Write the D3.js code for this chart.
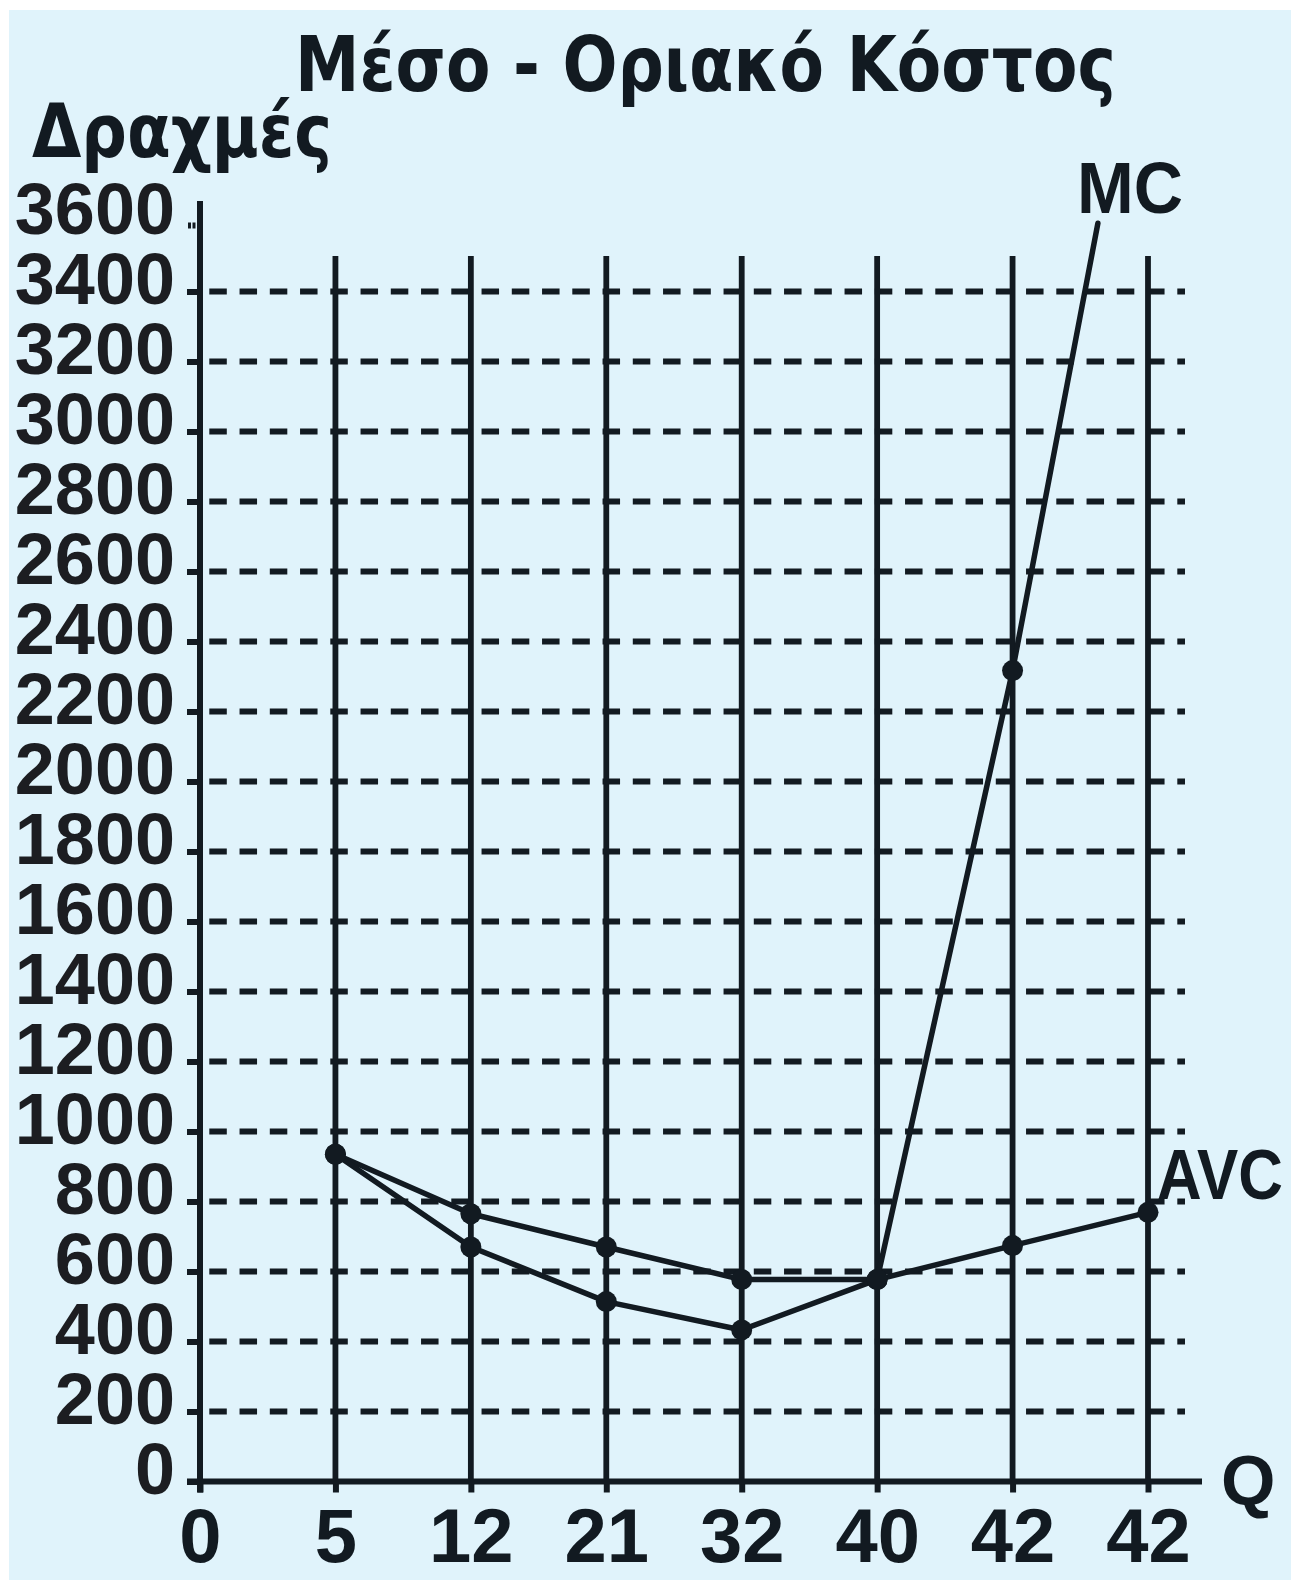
<!DOCTYPE html>
<html>
<head>
<meta charset="utf-8">
<script src="https://cdn.jsdelivr.net/npm/d3@7"></script>
<style>
  html, body { margin: 0; padding: 0; background: #ffffff; }
  svg { display: block; }
</style>
</head>
<body>
<svg id="chart" width="1296" height="1581"></svg>
<script>
// ---- data ----
const titleText = "Μέσο - Οριακό Κόστος";
const yAxisTitle = "Δραχμές";
const xAxisTitle = "Q";
const xLabels = ["0", "5", "12", "21", "32", "40", "42", "42"];
const yTicks = [0, 200, 400, 600, 800, 1000, 1200, 1400, 1600, 1800, 2000, 2200, 2400, 2600, 2800, 3000, 3200, 3400, 3600];
const avcQ = [1, 2, 3, 4, 5, 6, 7];
const avcValues = [935, 765, 670, 577, 577, 674, 769];
const mcQ = [1, 2, 3, 4, 5, 6, 6.63];
const mcValues = [935, 670, 514, 433, 577, 2317, 3595];
const mcMarkers = [true, true, true, true, true, true, false];

// ---- styles ----
const ink = "#121a21";
const textInk = "#1c1d21";
const bg = "#e0f3fb";

const svg = d3.select("#chart");
svg.append("rect").attr("x", 9).attr("y", 10).attr("width", 1282).attr("height", 1570).attr("fill", bg);

const x = d3.scaleLinear().domain([0, xLabels.length - 1]).range([200, 1148]);
const y = d3.scaleLinear().domain([0, 3600]).range([1481.5, 221.5]);

// horizontal dashed gridlines
svg.append("g").selectAll("line")
  .data(yTicks.filter(v => v > 0 && v < 3600))
  .join("line")
  .attr("x1", 209.3).attr("x2", 1185)
  .attr("y1", d => y(d)).attr("y2", d => y(d))
  .attr("stroke", ink).attr("stroke-width", 6)
  .attr("stroke-dasharray", "17.5,12.75");

// vertical solid gridlines
svg.append("g").selectAll("line")
  .data(d3.range(1, xLabels.length))
  .join("line")
  .attr("x1", d => x(d)).attr("x2", d => x(d))
  .attr("y1", 256).attr("y2", y(0))
  .attr("stroke", ink).attr("stroke-width", 5.8);

// Y axis
const yAxis = svg.append("g").attr("transform", "translate(200,0)")
  .call(d3.axisLeft(y).tickValues(yTicks).tickSize(13).tickPadding(12).tickFormat(d3.format("d")));
yAxis.select(".domain").remove();
yAxis.selectAll(".tick line").attr("stroke", ink).attr("stroke-width", 6);
yAxis.selectAll(".tick").filter(d => d === 3600).select("line")
  .attr("stroke-dasharray", "3,1.5").attr("transform", "translate(0,3.5)");
yAxis.selectAll(".tick text")
  .attr("dy", 12)
  .attr("fill", textInk)
  .style("font-family", "'Liberation Sans', Arial, sans-serif")
  .style("font-weight", "bold")
  .style("font-size", "72px");

// X axis
const xAxis = svg.append("g").attr("transform", `translate(0,${y(0)})`)
  .call(d3.axisBottom(x).tickValues(d3.range(xLabels.length)).tickSize(11).tickFormat(i => xLabels[i]));
xAxis.select(".domain").remove();
xAxis.selectAll(".tick line").attr("stroke", ink).attr("stroke-width", 6);
xAxis.selectAll(".tick text")
  .attr("y", 80).attr("dy", 0)
  .attr("fill", ink)
  .style("font-family", "'Liberation Sans', Arial, sans-serif")
  .style("font-weight", "bold")
  .style("font-size", "76px");

// axis lines
svg.append("line").attr("x1", x(0)).attr("x2", x(0)).attr("y1", 201).attr("y2", y(0) + 11)
  .attr("stroke", ink).attr("stroke-width", 6);
svg.append("line").attr("x1", 187).attr("x2", 1202).attr("y1", y(0)).attr("y2", y(0))
  .attr("stroke", ink).attr("stroke-width", 6);

// series
const line = d3.line().x(d => x(d.q)).y(d => y(d.v));
const avc = avcQ.map((q, i) => ({ q, v: avcValues[i], m: true }));
const mc = mcQ.map((q, i) => ({ q, v: mcValues[i], m: mcMarkers[i] }));

[avc, mc].forEach(series => {
  svg.append("path").datum(series).attr("d", line)
    .attr("fill", "none").attr("stroke", ink).attr("stroke-width", 5.5)
    .attr("stroke-linejoin", "round").attr("stroke-linecap", "round");
});
[avc, mc].forEach(series => {
  svg.append("g").selectAll("circle").data(series.filter(d => d.m)).join("circle")
    .attr("cx", d => x(d.q)).attr("cy", d => y(d.v)).attr("r", 10.5).attr("fill", ink);
});

// texts
svg.append("text").text(titleText)
  .attr("x", 295).attr("y", 91)
  .attr("textLength", 821).attr("lengthAdjust", "spacingAndGlyphs")
  .attr("fill", ink)
  .style("font-family", "'DejaVu Sans Condensed', 'DejaVu Sans', sans-serif")
  .style("font-weight", "bold").style("font-size", "77px");

svg.append("text").text(yAxisTitle)
  .attr("x", 32).attr("y", 157)
  .attr("textLength", 300).attr("lengthAdjust", "spacingAndGlyphs")
  .attr("fill", ink)
  .style("font-family", "'DejaVu Sans Condensed', 'DejaVu Sans', sans-serif")
  .style("font-weight", "bold").style("font-size", "74px");

const mcLast = mc[mc.length - 1];
svg.append("text").text("MC")
  .attr("x", x(mcLast.q) - 21).attr("y", y(mcLast.v) - 10)
  .attr("textLength", 106).attr("lengthAdjust", "spacingAndGlyphs")
  .attr("fill", ink)
  .style("font-family", "'Liberation Sans', Arial, sans-serif")
  .style("font-weight", "bold").style("font-size", "73px");

const avcLast = avc[avc.length - 1];
svg.append("text").text("AVC")
  .attr("x", x(avcLast.q) + 9).attr("y", y(avcLast.v) - 13)
  .attr("textLength", 126).attr("lengthAdjust", "spacingAndGlyphs")
  .attr("fill", ink)
  .style("font-family", "'Liberation Sans', Arial, sans-serif")
  .style("font-weight", "bold").style("font-size", "71px");

svg.append("text").text(xAxisTitle)
  .attr("x", 1221).attr("y", y(0) + 23)
  .attr("fill", ink)
  .style("font-family", "'Liberation Sans', Arial, sans-serif")
  .style("font-weight", "bold").style("font-size", "70px");
</script>
</body>
</html>
